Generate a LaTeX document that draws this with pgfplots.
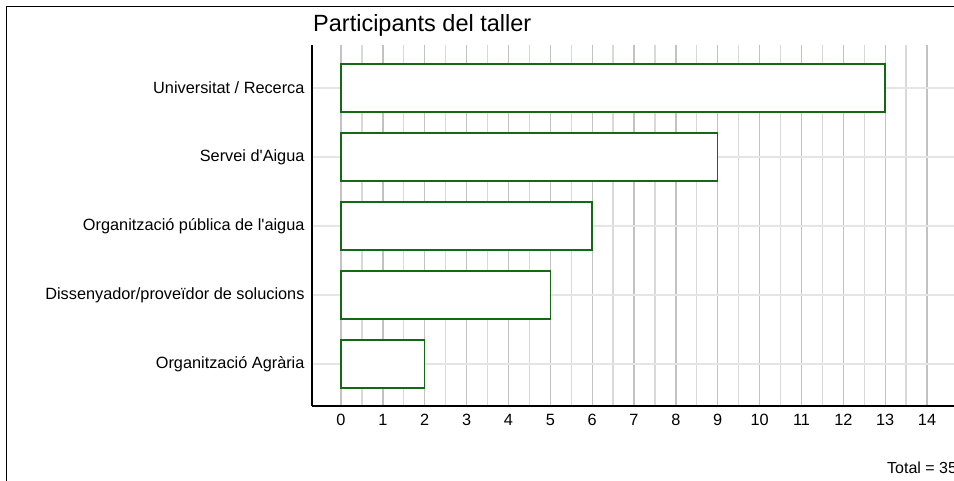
\documentclass[border=0pt]{standalone}
\usepackage{fontspec}
\setmainfont{Liberation Sans}[Ligatures=TeXOff]
\usepackage{pgfplots}
\pgfplotsset{compat=1.18}
\definecolor{bargreen}{RGB}{20,105,20}

\begin{document}
\begin{tikzpicture}[x=1pt,y=1pt]
\useasboundingbox (0,0) rectangle (954,481);
\clip (0,0) rectangle (954,481);
% outer frame of the chart container (cut off at right and bottom)
\draw[line width=1.6pt] (6.5,-10) -- (6.5,474.5) -- (970,474.5);

\begin{axis}[
    at={(312pt,75pt)}, anchor=south west,
    scale only axis,
    width=642pt, height=361pt,
    xmin=-0.693, xmax=14.644,
    ymin=-0.609, ymax=4.623,
    xbar, bar width=48pt,
    axis x line*=bottom, axis y line*=left,
    axis line style={black, line width=1.3pt, -},
    xtick={0,...,14},
    minor x tick num=1,
    ytick={0,...,4},
    yticklabels={Organització Agrària, Dissenyador/proveïdor de solucions, Organització pública de l'aigua, Servei d'Aigua, Universitat / Recerca},
    major tick length=0pt, minor tick length=0pt,
    xmajorgrids, xminorgrids, ymajorgrids,
    major x grid style={black!24, line width=1.3pt},
    minor x grid style={black!15, line width=1.3pt},
    major y grid style={black!10, line width=2pt},
    ticklabel style={font=\fontsize{16.3}{18}\selectfont},
    xticklabel style={yshift=-4.5pt},
    yticklabel style={xshift=-4pt},
    /pgf/number format/assume math mode=true,
]
\addplot[draw=bargreen, fill=white, line width=1.4pt] coordinates {
    (2,0) (5,1) (6,2) (9,3) (13,4)
};
\end{axis}

\node[anchor=base west, inner sep=0, font=\fontsize{23.5}{26}\selectfont] at (313,449) {Participants del taller};
\node[anchor=base west, inner sep=0, font=\fontsize{16}{18}\selectfont] at (887,7.5) {Total = 35};
\end{tikzpicture}
\end{document}
